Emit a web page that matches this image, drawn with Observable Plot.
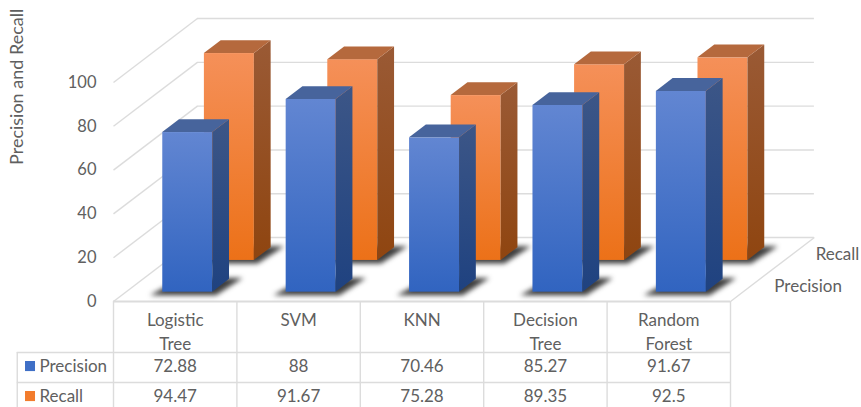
<!DOCTYPE html>
<html>
<head>
<meta charset="utf-8">
<script src="https://cdn.jsdelivr.net/npm/d3@7"></script>
<script src="https://cdn.jsdelivr.net/npm/@observablehq/plot@0.6"></script>
<style>
  html, body { margin: 0; padding: 0; background: #fff; overflow: hidden; }
  svg { display: block; }
</style>
</head>
<body>
<div id="chart"></div>
<script>
// Classifier scores
const models = ["Logistic\nTree", "SVM", "KNN", "Decision\nTree", "Random\nForest"];
const precision = [72.88, 88, 70.46, 85.27, 91.67];
const recall = [94.47, 91.67, 75.28, 89.35, 92.5];
const ticks = [0, 20, 40, 60, 80, 100];

// Oblique projection: a unit of depth moves a point right and up the chart
const depthX = 0.68;
const depthY = 29.2;
const px = (u, d) => u + d * depthX;
const py = (v, d) => v + d * depthY;

const barStart = 0.3;
const barWidth = 0.405;
const seriesDepth = { Precision: [0.146, 0.346], Recall: [0.642, 0.842] };

const grid = "#dcdcdc";
const ink = "#606060";
const fontSize = 17;

function bars(name, values) {
  const [d0, d1] = seriesDepth[name];
  return values.map((value, i) => ({
    key: `${name}-${i}`, i, value, d0, d1,
    u0: i + barStart, u1: i + barStart + barWidth
  }));
}

function sideRows(rows) {
  return rows.flatMap((b) => [
    { key: b.key, x: px(b.u1, b.d0), y1: py(0, b.d0), y2: py(b.value, b.d0) },
    { key: b.key, x: px(b.u1, b.d1), y1: py(0, b.d1), y2: py(b.value, b.d1) }
  ]);
}

function topRows(rows) {
  return rows.flatMap((b) => [
    { key: b.key, y: py(b.value, b.d0), x1: px(b.u0, b.d0), x2: px(b.u1, b.d0) },
    { key: b.key, y: py(b.value, b.d1), x1: px(b.u0, b.d1), x2: px(b.u1, b.d1) }
  ]);
}

// Soft contact shadow cast on the floor, skewed toward the back right
function shadowRows(rows) {
  return rows.flatMap((b) => [
    { key: b.key, y: py(0, b.d0) - 1.6, x1: px(b.u0 - 0.1, b.d0), x2: px(b.u1 + 0.03, b.d0) },
    { key: b.key, y: py(0, b.d1) + 0.4, x1: px(b.u0 + 0.02, b.d1), x2: px(b.u1 + 0.11, b.d1) }
  ]);
}

function barMarks(rows, front, side, topColor) {
  return [
    Plot.area(shadowRows(rows), {
      y1: "y", x1: "x1", x2: "x2", z: "key", fill: "#1c1c1c", fillOpacity: 0.85,
      imageFilter: "blur(2.5px)"
    }),
    Plot.rect(rows, {
      x1: (b) => px(b.u0, b.d0), x2: (b) => px(b.u1, b.d0),
      y1: (b) => py(0, b.d0), y2: (b) => py(b.value, b.d0),
      fill: `url(#${front})`
    }),
    Plot.area(sideRows(rows), { x1: "x", y1: "y1", y2: "y2", z: "key", fill: `url(#${side})` }),
    Plot.area(topRows(rows), { y1: "y", x1: "x1", x2: "x2", z: "key", fill: topColor })
  ];
}

const gradient = (id, top, bottom) =>
  `<linearGradient id="${id}" x1="0" y1="0" x2="0" y2="1"><stop offset="0" stop-color="${top}"/><stop offset="1" stop-color="${bottom}"/></linearGradient>`;

function defs() {
  const g = document.createElementNS("http://www.w3.org/2000/svg", "defs");
  g.innerHTML =
    gradient("blueFront", "#6286d2", "#3164c0") +
    gradient("blueSide", "#3c5687", "#1f4280") +
    gradient("orangeFront", "#f59059", "#ec7118") +
    gradient("orangeSide", "#9a5a35", "#8f4510");
  return g;
}

// Table rows sit below the floor, in the same value units as the bars
const tableTop = 0;
const rowLines = [-23.3, -37];
const tableBottom = -48.6;
const categoryRow = -3.4;
const precisionRow = -29.7;
const recallRow = -43.4;

const tableX = d3.range(6);
const scoreCell = (values, y) =>
  Plot.text(values, { x: (d, i) => i + 0.5, y: () => y, text: (d) => String(d), fontSize, fill: ink });

const legendRow = (label, color, y) => [
  Plot.rect([label], { x1: () => -0.713, x2: () => -0.632, y1: () => y - 2.3, y2: () => y + 2.3, fill: color }),
  Plot.text([label], { x: () => -0.6, y: () => y, text: (d) => d, textAnchor: "start", fontSize, fill: ink })
];

const plot = Plot.plot({
  width: 861,
  height: 407,
  marginLeft: 113,
  marginRight: 131,
  marginTop: 82,
  marginBottom: 106,
  style: { fontFamily: "Lato, 'Open Sans', sans-serif", background: "#fff", overflow: "visible" },
  x: { domain: [0, 5], axis: null },
  y: { domain: [0, 100], axis: null },
  marks: [
    defs,
    // Back wall, left wall and floor outline
    Plot.ruleY(ticks, { y: (v) => py(v, 1), x1: () => px(0, 1), x2: () => px(5, 1), stroke: grid, strokeWidth: 1.4 }),
    Plot.link(ticks, { x1: () => px(0, 0), y1: (v) => v, x2: () => px(0, 1), y2: (v) => py(v, 1), stroke: grid, strokeWidth: 1.4 }),
    Plot.link([0], { x1: () => px(5, 0), y1: () => 0, x2: () => px(5, 1), y2: () => py(0, 1), stroke: grid, strokeWidth: 1.4 }),
    Plot.ruleY([0], { x1: () => 0, x2: () => 5, stroke: grid, strokeWidth: 2 }),

    ...barMarks(bars("Recall", recall), "orangeFront", "orangeSide", "#b5693d"),
    ...barMarks(bars("Precision", precision), "blueFront", "blueSide", "#47649c"),

    Plot.axisY({ ticks, tickSize: 0, tickPadding: 17, fontSize: 16.5, color: ink, label: null }),
    Plot.text(["Precision and Recall"], {
      x: () => -0.78, y: () => 98, rotate: -90, fontSize: 18, fill: ink
    }),

    // Depth axis names
    Plot.text(["Recall"], { x: () => 5.69, y: () => 21.5, text: (d) => d, textAnchor: "start", fontSize, fill: ink }),
    Plot.text(["Precision"], { x: () => 5.355, y: () => 6.8, text: (d) => d, textAnchor: "start", fontSize, fill: ink }),

    // Data table
    Plot.ruleX(tableX, { y1: () => tableTop, y2: () => tableBottom, stroke: grid, strokeWidth: 1.4 }),
    Plot.ruleX([-0.78], { y1: () => rowLines[0], y2: () => tableBottom, stroke: grid, strokeWidth: 1.4 }),
    Plot.ruleY(rowLines, { x1: () => -0.78, x2: () => 5, stroke: grid, strokeWidth: 1.4 }),
    Plot.text(models, {
      x: (d, i) => i + 0.5, y: () => categoryRow, text: (d) => d,
      lineAnchor: "top", lineHeight: 1.42, fontSize, fill: ink
    }),
    scoreCell(precision, precisionRow),
    scoreCell(recall, recallRow),
    ...legendRow("Precision", "#3f6fc6", precisionRow),
    ...legendRow("Recall", "#f27c2d", recallRow)
  ]
});

document.getElementById("chart").append(plot);
</script>
</body>
</html>
